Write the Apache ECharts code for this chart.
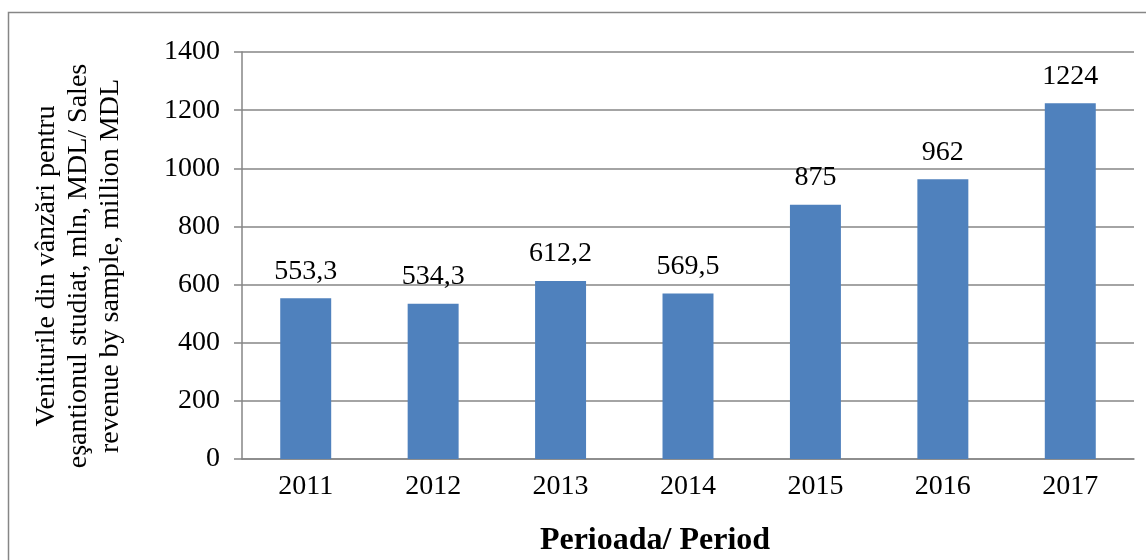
<!DOCTYPE html>
<html lang="ro">
<head>
    <meta charset="UTF-8">
    <title>Veniturile din vânzări</title>
    <script src="https://cdn.jsdelivr.net/npm/echarts@6/dist/echarts.min.js"></script>
    <style>
        body { margin: 0; background: #ffffff; }
        #chart { width: 1146px; height: 560px; }
    </style>
</head>
<body>
    <div id="chart"></div>
    <script>
        // years and sales revenue, mln MDL
        const years = ['2011', '2012', '2013', '2014', '2015', '2016', '2017'];
        const revenue = [553.3, 534.3, 612.2, 569.5, 875, 962, 1224];
        const yTitleLines = ['Veniturile din vânzări pentru', 'eşantionul studiat, mln, MDL/ Sales', 'revenue by sample, million MDL'];
        const xTitle = 'Perioada/ Period';

        const font = '"Liberation Serif", "Times New Roman", serif';
        const gray = '#868686';

        let option = {
            backgroundColor: '#ffffff',
            animation: false,
            textStyle: { fontFamily: font },
            grid: { left: 242, right: 12, top: 52, bottom: 101 },
            graphic: [
                {
                    type: 'rect',
                    shape: { x: 8.5, y: 12.5, width: 1200, height: 700 },
                    style: { fill: 'none', stroke: gray, lineWidth: 1.5 }
                },
                {
                    type: 'text',
                    x: 79, y: 266,
                    rotation: Math.PI / 2,
                    style: {
                        text: yTitleLines.join('\n'),
                        font: '28px ' + font,
                        fill: '#000',
                        align: 'center',
                        verticalAlign: 'middle',
                        lineHeight: 32
                    }
                },
                {
                    type: 'text',
                    x: 655, y: 541,
                    style: {
                        text: xTitle,
                        font: 'bold 32px ' + font,
                        fill: '#000',
                        align: 'center',
                        verticalAlign: 'middle'
                    }
                }
            ],
            xAxis: {
                type: 'category',
                data: years,
                axisLine: { lineStyle: { color: gray, width: 1.5 } },
                axisTick: { length: 8, lineStyle: { color: gray, width: 1.5 } },
                axisLabel: { color: '#000', fontSize: 28, fontFamily: font, margin: 14 }
            },
            yAxis: {
                type: 'value',
                min: 0,
                max: 1400,
                interval: 200,
                axisLine: { show: true, lineStyle: { color: gray, width: 1.5 } },
                axisTick: { show: true, length: 8, lineStyle: { color: gray, width: 1.5 } },
                axisLabel: { color: '#000', fontSize: 28, fontFamily: font, margin: 22, formatter: v => String(v) },
                splitLine: { lineStyle: { color: gray, width: 1.5 } }
            },
            series: [
                {
                    type: 'bar',
                    data: revenue,
                    barWidth: '40%',
                    itemStyle: { color: '#4F81BD' },
                    label: {
                        show: true,
                        position: 'top',
                        distance: 13,
                        color: '#000',
                        fontSize: 28,
                        fontFamily: font,
                        formatter: p => String(p.value).replace('.', ',')
                    }
                }
            ]
        };

        let chart = echarts.init(document.getElementById('chart'));
        chart.setOption(option);
    </script>
</body>
</html>
